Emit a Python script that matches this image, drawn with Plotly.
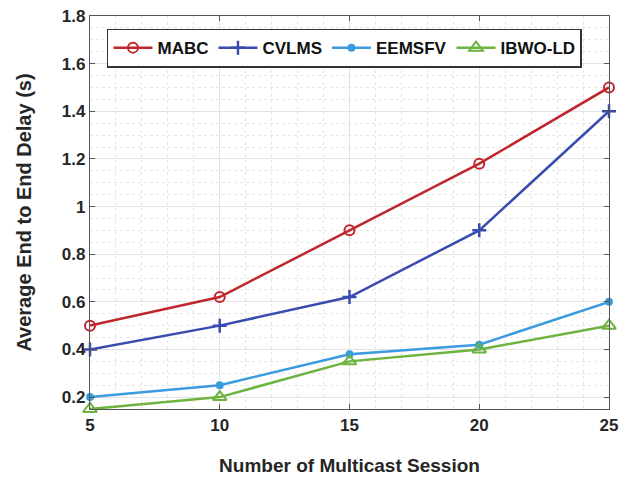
import plotly.graph_objects as go

sessions = [5, 10, 15, 20, 25]
mabc = [0.5, 0.62, 0.9, 1.18, 1.5]
cvlms = [0.4, 0.5, 0.62, 0.9, 1.4]
eemsfv = [0.2, 0.25, 0.38, 0.42, 0.6]
ibwo = [0.15, 0.2, 0.35, 0.4, 0.5]

y_ticks = [0.2, 0.4, 0.6, 0.8, 1.0, 1.2, 1.4, 1.6, 1.8]
y_labels = ["0.2", "0.4", "0.6", "0.8", "1", "1.2", "1.4", "1.6", "1.8"]
x_ticks = [5, 10, 15, 20, 25]

series = [
    ("MABC", mabc, "#C0272D", dict(symbol="circle-open", size=10, line=dict(width=2))),
    ("CVLMS", cvlms, "#3A4BB0", dict(symbol="cross-thin-open", size=10, line=dict(width=2.5))),
    ("EEMSFV", eemsfv, "#3A9BDE", dict(symbol="circle", size=8)),
    ("IBWO-LD", ibwo, "#6DB33F", dict(symbol="triangle-up-open", size=12, line=dict(width=2))),
]

fig = go.Figure()
for name, vals, color, mk in series:
    m = dict(mk)
    m["color"] = color
    if "line" in m:
        m["line"] = dict(m["line"], color=color)
    fig.add_trace(go.Scatter(x=sessions, y=vals, name=name, mode="lines+markers",
                             line=dict(color=color, width=2.5), marker=m, cliponaxis=False))

font_fam = "Liberation Sans, Arial, sans-serif"
fig.update_layout(
    width=620, height=479,
    margin=dict(l=90, r=11, t=16, b=70),
    paper_bgcolor="white", plot_bgcolor="white",
    font=dict(family=font_fam, size=17, color="#262626"),
    showlegend=True,
    legend=dict(orientation="h", x=0.0327, xanchor="left", y=0.968, yanchor="top",
                bgcolor="white", bordercolor="#333333", borderwidth=1.5,
                font=dict(family=font_fam, size=17, color="#111111", weight="bold"),
                itemwidth=39, tracegroupgap=0),
)
fig.update_xaxes(
    range=[5, 25], tickvals=x_ticks, ticks="inside", ticklen=5, tickcolor="#555",
    showline=True, linecolor="#555", linewidth=1.2, mirror="ticks", automargin=False,
    ticklabeloverflow="allow",
    showgrid=True, gridcolor="#e3e3e3", gridwidth=1, zeroline=False,
    tickfont=dict(size=17, weight="bold", color="#262626"),
    minor=dict(dtick=1, showgrid=True, gridcolor="#e6e6e6", griddash="dot", ticks=""),
    title=dict(text="<b>Number of Multicast Session</b>", font=dict(size=19, color="#262626"), standoff=25),
)
fig.update_yaxes(
    range=[0.15, 1.8], tickvals=y_ticks, ticktext=y_labels, ticks="inside", ticklen=5, tickcolor="#555",
    showline=True, linecolor="#555", linewidth=1.2, mirror="ticks", automargin=False,
    ticklabeloverflow="allow",
    showgrid=True, gridcolor="#e3e3e3", gridwidth=1, zeroline=False,
    tickfont=dict(size=17, weight="bold", color="#262626"),
    minor=dict(dtick=0.05, tick0=0.15, showgrid=True, gridcolor="#e6e6e6", griddash="dot", ticks=""),
    title=dict(text="<b>Average End to End Delay (s)</b>", font=dict(size=20, color="#262626"), standoff=24),
)
fig.write_html("out.html", config={"displayModeBar": False},
               post_script="document.body.style.margin='0';document.body.style.overflow='hidden';")
